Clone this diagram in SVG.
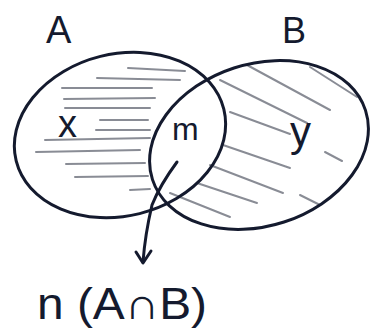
<svg xmlns="http://www.w3.org/2000/svg" width="371" height="333" viewBox="0 0 371 333">
<style>
.ring{fill:none;stroke:#141a2e;stroke-width:3}
.hatch{stroke:#6b6f7a;stroke-width:2;stroke-linecap:round;fill:none;opacity:0.8}
.lbl{font-family:"Liberation Sans",sans-serif;fill:#141a2e}
.conn{fill:none;stroke:#141a2e;stroke-width:3;stroke-linecap:round;stroke-linejoin:round}
</style>
<rect width="371" height="333" fill="#ffffff"/>
<g id="hatching-A">
<path class="hatch" d="M128 68 L185 71 M97 78 L180 80 M62 88 L152 88 M64 99 L155 98 M65 108 L150 108 M100 120 L148 120 M96 130 L150 130 M45 140 L150 138 M36 152 L140 150 M66 164 L145 163 M75 177 L148 176 M130 190 L150 189"/>
</g>
<g id="hatching-B">
<path class="hatch" d="M247 65 L330 110 M220 80 L307 123 M230 112 L290 134 M223 145 L290 168 M210 165 L283 193 M197 183 L257 203 M170 193 L230 217 M310 67 L357 97 M325 152 L342 161 M300 195 L320 205"/>
</g>
<g id="set-A">
<ellipse class="ring" cx="120" cy="135" rx="107" ry="81" transform="rotate(-14 120 135)"/>
<text class="lbl" x="58" y="137" font-size="38">x</text>
</g>
<g id="set-B">
<ellipse class="ring" cx="259" cy="145" rx="112" ry="81" transform="rotate(-18 259 145)"/>
<text class="lbl" x="290" y="146" font-size="42">y</text>
</g>
<g id="labels">
<text class="lbl" x="46" y="43" font-size="38">A</text>
<text class="lbl" x="282" y="43" font-size="36">B</text>
<text class="lbl" x="172" y="140" font-size="32">m</text>
</g>
<g id="connectors">
<path class="conn" d="M177 162 Q160 185 152 205 Q145 235 143 262"/>
<path class="conn" d="M136 252 L143 263 L151 251"/>
</g>
<g id="result">
<text class="lbl" x="37" y="319" font-size="44" textLength="170" lengthAdjust="spacingAndGlyphs">n (A∩B)</text>
</g>
</svg>
